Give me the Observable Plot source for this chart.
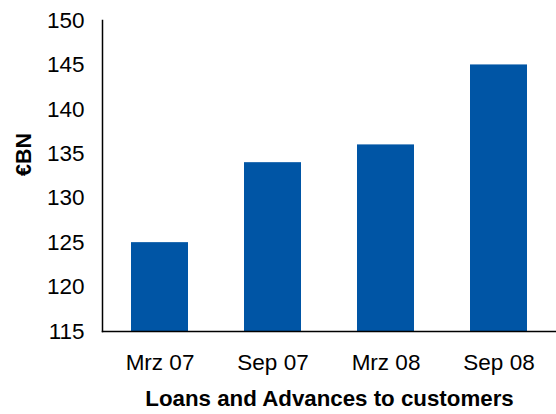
<!DOCTYPE html>
<html>
<head>
<meta charset="utf-8">
<script src="https://cdn.jsdelivr.net/npm/d3@7"></script>
<script src="https://cdn.jsdelivr.net/npm/@observablehq/plot@0.6"></script>
<style>
  html, body { margin: 0; padding: 0; background: #fff; }
</style>
</head>
<body>
<div id="chart"></div>
<script>
const categories = ["Mrz 07", "Sep 07", "Mrz 08", "Sep 08"];
const values = [125, 134, 136, 145];
const yTicks = [115, 120, 125, 130, 135, 140, 145, 150];
const xTitle = "Loans and Advances to customers";
const yTitle = "€BN";

const data = categories.map((c, i) => ({category: c, value: values[i]}));

const chart = Plot.plot({
  width: 556,
  height: 414,
  marginLeft: 102,
  marginRight: 0,
  marginTop: 20,
  marginBottom: 83,
  style: {fontFamily: "Liberation Sans, Arial, sans-serif", fontSize: "22px", color: "#000", background: "#fff"},
  x: {domain: categories, paddingInner: 0.5, paddingOuter: 0.25, label: null},
  y: {domain: [115, 150], label: null},
  marks: [
    Plot.barY(data, {x: "category", y1: 115, y2: "value", fill: "#0055A5"}),
    Plot.axisX({tickSize: 0, tickPadding: 23, fontSize: 22.5, label: null}),
    Plot.axisY({ticks: yTicks, tickSize: 0, tickPadding: 18, fontSize: 22.5, label: null}),
    Plot.frame({anchor: "left", stroke: "#000", strokeWidth: 1.5}),
    Plot.frame({anchor: "bottom", stroke: "#000", strokeWidth: 1.5}),
    Plot.text([xTitle], {frameAnchor: "bottom", dy: 74, fontSize: 22.3, fontWeight: "bold", fill: "#000"}),
    Plot.text([yTitle], {frameAnchor: "left", dx: -78, rotate: -90, fontSize: 21.5, fontWeight: "bold", fill: "#000"})
  ]
});
document.getElementById("chart").appendChild(chart);
</script>
</body>
</html>
